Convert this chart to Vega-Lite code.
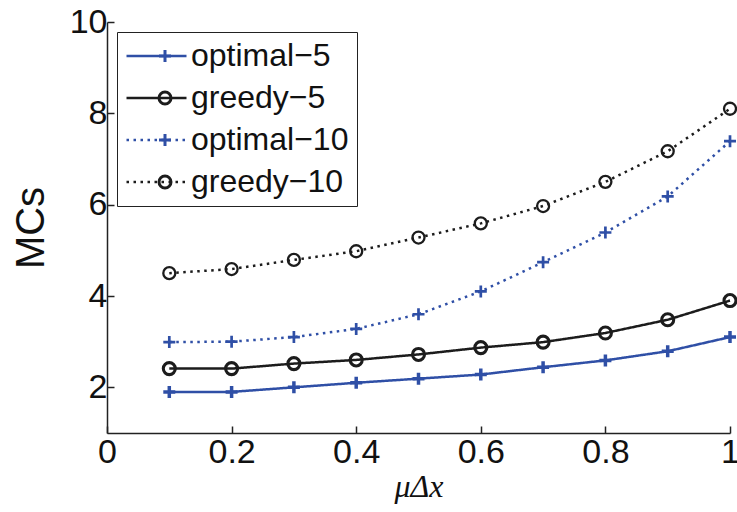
{
  "$schema": "https://vega.github.io/schema/vega-lite/v6.json",
  "width": 623,
  "height": 411,
  "autosize": "none",
  "padding": {"left": 107, "top": 22, "right": 7, "bottom": 79},
  "background": "white",
  "data": {
    "values": [
      {"series": "optimal-5", "mu": 0.1, "mcs": 1.9},
      {"series": "optimal-5", "mu": 0.2, "mcs": 1.9},
      {"series": "optimal-5", "mu": 0.3, "mcs": 2.0},
      {"series": "optimal-5", "mu": 0.4, "mcs": 2.1},
      {"series": "optimal-5", "mu": 0.5, "mcs": 2.19},
      {"series": "optimal-5", "mu": 0.6, "mcs": 2.28},
      {"series": "optimal-5", "mu": 0.7, "mcs": 2.44},
      {"series": "optimal-5", "mu": 0.8, "mcs": 2.59},
      {"series": "optimal-5", "mu": 0.9, "mcs": 2.79},
      {"series": "optimal-5", "mu": 1.0, "mcs": 3.1},
      {"series": "greedy-5", "mu": 0.1, "mcs": 2.41},
      {"series": "greedy-5", "mu": 0.2, "mcs": 2.41},
      {"series": "greedy-5", "mu": 0.3, "mcs": 2.52},
      {"series": "greedy-5", "mu": 0.4, "mcs": 2.6},
      {"series": "greedy-5", "mu": 0.5, "mcs": 2.72},
      {"series": "greedy-5", "mu": 0.6, "mcs": 2.87},
      {"series": "greedy-5", "mu": 0.7, "mcs": 2.99},
      {"series": "greedy-5", "mu": 0.8, "mcs": 3.19},
      {"series": "greedy-5", "mu": 0.9, "mcs": 3.48},
      {"series": "greedy-5", "mu": 1.0, "mcs": 3.9},
      {"series": "optimal-10", "mu": 0.1, "mcs": 2.99},
      {"series": "optimal-10", "mu": 0.2, "mcs": 3.0},
      {"series": "optimal-10", "mu": 0.3, "mcs": 3.1},
      {"series": "optimal-10", "mu": 0.4, "mcs": 3.28},
      {"series": "optimal-10", "mu": 0.5, "mcs": 3.6},
      {"series": "optimal-10", "mu": 0.6, "mcs": 4.1},
      {"series": "optimal-10", "mu": 0.7, "mcs": 4.74},
      {"series": "optimal-10", "mu": 0.8, "mcs": 5.39},
      {"series": "optimal-10", "mu": 0.9, "mcs": 6.18},
      {"series": "optimal-10", "mu": 1.0, "mcs": 7.39},
      {"series": "greedy-10", "mu": 0.1, "mcs": 4.5},
      {"series": "greedy-10", "mu": 0.2, "mcs": 4.59},
      {"series": "greedy-10", "mu": 0.3, "mcs": 4.79},
      {"series": "greedy-10", "mu": 0.4, "mcs": 4.98},
      {"series": "greedy-10", "mu": 0.5, "mcs": 5.28},
      {"series": "greedy-10", "mu": 0.6, "mcs": 5.59},
      {"series": "greedy-10", "mu": 0.7, "mcs": 5.97},
      {"series": "greedy-10", "mu": 0.8, "mcs": 6.5},
      {"series": "greedy-10", "mu": 0.9, "mcs": 7.17},
      {"series": "greedy-10", "mu": 1.0, "mcs": 8.1}
    ]
  },
  "encoding": {
    "x": {
      "field": "mu",
      "type": "quantitative",
      "scale": {"domain": [0, 1], "nice": false, "zero": false},
      "axis": {
        "values": [0, 0.2, 0.4, 0.6, 0.8, 1],
        "format": "~g",
        "title": "μΔx",
        "titleFont": "Liberation Serif",
        "titleFontStyle": "italic",
        "titleFontWeight": "normal",
        "titleFontSize": 32,
        "titlePadding": 2
      }
    },
    "y": {
      "field": "mcs",
      "type": "quantitative",
      "scale": {"domain": [1, 10], "nice": false, "zero": false},
      "axis": {
        "values": [2, 4, 6, 8, 10],
        "title": "MCs",
        "titleFontSize": 40,
        "titleFontWeight": "normal",
        "titlePadding": 18
      }
    }
  },
  "resolve": {
    "scale": {"color": "independent", "strokeDash": "independent", "shape": "independent"},
    "legend": {"color": "independent", "strokeDash": "independent", "shape": "independent"}
  },
  "layer": [
    {
      "mark": {"type": "line", "strokeWidth": 2.5, "clip": false},
      "encoding": {
        "color": {
          "field": "series",
          "type": "nominal",
          "scale": {
            "domain": ["optimal-5", "greedy-5", "optimal-10", "greedy-10"],
            "range": ["#2f4fa6", "#1c1c1c", "#2f4fa6", "#1c1c1c"]
          },
          "legend": {
            "title": null,
            "orient": "none",
            "legendX": 10,
            "legendY": 10,
            "symbolType": "stroke",
            "symbolSize": 3600,
            "symbolStrokeWidth": 2.5,
            "symbolOpacity": 1,
            "clipHeight": 32,
            "rowPadding": 10,
            "padding": 8,
            "labelOffset": 3,
            "labelFontSize": 32,
            "labelColor": "#111",
            "labelLimit": 400,
            "strokeColor": "#222",
            "labelExpr": "replace(datum.label, '-', '−')"
          }
        },
        "strokeDash": {
          "field": "series",
          "type": "nominal",
          "scale": {
            "domain": ["optimal-5", "greedy-5", "optimal-10", "greedy-10"],
            "range": [[1, 0], [1, 0], [2.5, 4.5], [2.5, 4.5]]
          },
          "legend": {
            "title": null,
            "orient": "none",
            "legendX": 10,
            "legendY": 10,
            "symbolType": "stroke",
            "symbolSize": 3600,
            "symbolStrokeWidth": 2.5,
            "symbolOpacity": 1,
            "clipHeight": 32,
            "rowPadding": 10,
            "padding": 8,
            "labelOffset": 3,
            "labelFontSize": 32,
            "labelColor": "#111",
            "labelLimit": 400,
            "strokeColor": "#222",
            "labelExpr": "replace(datum.label, '-', '−')"
          }
        }
      }
    },
    {
      "mark": {"type": "point", "filled": false, "opacity": 1, "size": 144, "clip": false},
      "encoding": {
        "color": {
          "field": "series",
          "type": "nominal",
          "scale": {
            "domain": ["optimal-5", "greedy-5", "optimal-10", "greedy-10"],
            "range": ["#2f4fa6", "#1c1c1c", "#2f4fa6", "#1c1c1c"]
          },
          "legend": {
            "title": null,
            "orient": "none",
            "legendX": 10,
            "legendY": 10,
            "symbolSize": 144,
            "symbolOpacity": 1,
            "symbolStrokeWidth": 3,
            "symbolFillColor": "transparent",
            "clipHeight": 32,
            "rowPadding": 10,
            "padding": 8,
            "labelOffset": 3,
            "labelFontSize": 32,
            "labelOpacity": 0,
            "labelLimit": 400,
            "symbolOffset": 24,
            "labelExpr": "''"
          }
        },
        "strokeWidth": {
          "field": "series",
          "type": "nominal",
          "scale": {
            "domain": ["optimal-5", "greedy-5", "optimal-10", "greedy-10"],
            "range": [3.5, 2.3, 3.5, 2.3]
          },
          "legend": null
        },
        "shape": {
          "field": "series",
          "type": "nominal",
          "scale": {
            "domain": ["optimal-5", "greedy-5", "optimal-10", "greedy-10"],
            "range": ["M-1,0H1M0,-1V1", "circle", "M-1,0H1M0,-1V1", "circle"]
          },
          "legend": {
            "title": null,
            "orient": "none",
            "legendX": 10,
            "legendY": 10,
            "symbolSize": 144,
            "symbolOpacity": 1,
            "symbolStrokeWidth": 3,
            "symbolFillColor": "transparent",
            "clipHeight": 32,
            "rowPadding": 10,
            "padding": 8,
            "labelOffset": 3,
            "labelFontSize": 32,
            "labelOpacity": 0,
            "labelLimit": 400,
            "symbolOffset": 24,
            "labelExpr": "''"
          }
        }
      }
    }
  ],
  "config": {
    "view": {"stroke": null},
    "font": "Liberation Sans",
    "axis": {
      "grid": false,
      "domainColor": "#222",
      "domainWidth": 1.5,
      "tickColor": "#222",
      "tickWidth": 1.5,
      "tickSize": -7,
      "labelFontSize": 34,
      "labelColor": "#111",
      "labelFont": "Liberation Sans",
      "titleColor": "#111",
      "titleFont": "Liberation Sans"
    },
    "axisX": {"labelPadding": 9, "labelFlush": false},
    "axisY": {"labelPadding": 7}
  }
}
